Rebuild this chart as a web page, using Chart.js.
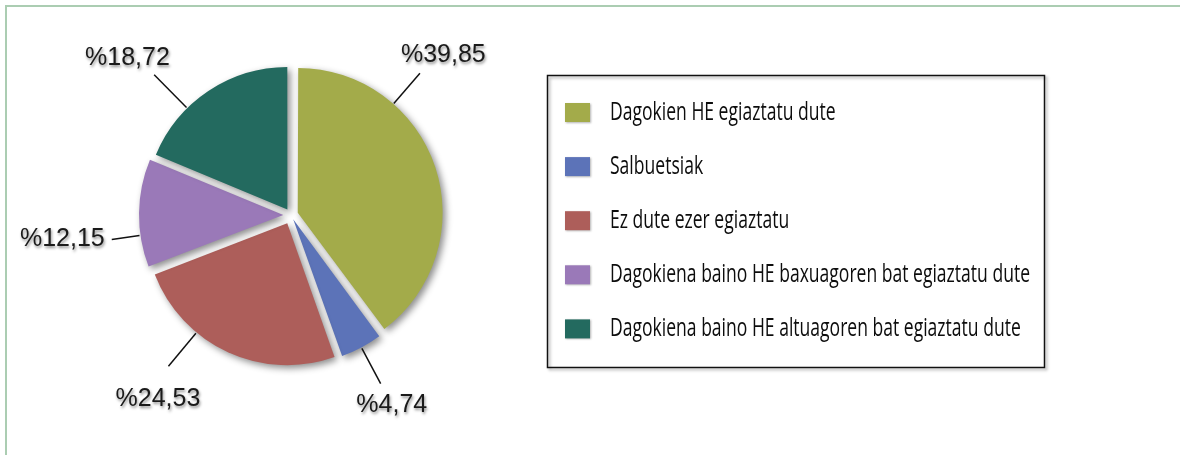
<!DOCTYPE html>
<html lang="eu">
<head>
<meta charset="UTF-8">
<title>HE egiaztapena</title>
<style>
  html, body { margin: 0; padding: 0; background: #fff; }
  #wrap { position: relative; width: 1180px; height: 455px; overflow: hidden; }
  #frame { position: absolute; left: 5px; top: 5px; width: 1200px; height: 470px;
           border-left: 2px solid #abcdb2; border-top: 2px solid #abcdb2; }
  canvas { position: absolute; left: 0; top: 0; }
</style>
<script src="https://cdn.jsdelivr.net/npm/chart.js"></script>
</head>
<body>
<div id="wrap">
  <div id="frame"></div>
  <canvas id="pie" width="1180" height="455"></canvas>
</div>
<script>
const categories = [
  'Dagokien HE egiaztatu dute',
  'Salbuetsiak',
  'Ez dute ezer egiaztatu',
  'Dagokiena baino HE baxuagoren bat egiaztatu dute',
  'Dagokiena baino HE altuagoren bat egiaztatu dute'
];
const shares = [39.85, 4.74, 24.53, 12.15, 18.72];
const shareLabels = ['%39,85', '%4,74', '%24,53', '%12,15', '%18,72'];
const colors = ['#a3ab4a', '#5c73b8', '#ad5e5a', '#9a79b8', '#236a5f'];

// how far each slice is pulled out (px) and where its label line goes
const pullOut = [10, 8, 9, 10, 7];
const labelTurn = [-31, 0, 15, -9, -11];   // degrees away from the slice middle
const lineLength = [40, 40, 43, 28, 46];
const labelDrop = [0, 0, 14, -4, 0];       // extra vertical push of the label text
const labelSlide = [0, 0, 12, 0, 0];       // extra sideways push

// arc offset in chart.js is not a plain distance, turn the wanted distance into one
function arcShift(circ) {
  const fix = 1 - Math.sin(Math.min(Math.PI, circ));
  return 1 + fix;
}

const decor = {
  id: 'decor',
  beforeDatasetsDraw(chart) {
    const ctx = chart.ctx;
    ctx.save();
    ctx.shadowColor = 'rgba(0,0,0,0.45)';
    ctx.shadowBlur = 7;
    ctx.shadowOffsetX = 3;
    ctx.shadowOffsetY = 3;
  },
  afterDatasetsDraw(chart) {
    const ctx = chart.ctx;
    ctx.restore();

    const meta = chart.getDatasetMeta(0);
    ctx.save();
    ctx.font = '25px "Liberation Sans", Arial, sans-serif';
    ctx.textAlign = 'center';
    ctx.textBaseline = 'middle';
    meta.data.forEach((arc, i) => {
      const p = arc.getProps(['x', 'y', 'startAngle', 'endAngle', 'outerRadius', 'circumference'], true);
      const mid = (p.startAngle + p.endAngle) / 2;
      const shift = arc.options.offset / 4 * arcShift(p.circumference);
      const cx = p.x + Math.cos(mid) * shift;
      const cy = p.y + Math.sin(mid) * shift;
      const a = mid + labelTurn[i] * Math.PI / 180;
      const dx = Math.cos(a), dy = Math.sin(a);
      const r0 = p.outerRadius + 1, r1 = r0 + lineLength[i];

      ctx.shadowColor = 'transparent';
      ctx.strokeStyle = '#111';
      ctx.lineWidth = 1.5;
      ctx.beginPath();
      ctx.moveTo(cx + dx * r0, cy + dy * r0);
      ctx.lineTo(cx + dx * r1, cy + dy * r1);
      ctx.stroke();

      const text = shareLabels[i];
      const w = ctx.measureText(text).width;
      const ox = dx * (w / 2 + 8) * Math.pow(Math.abs(dx), 0.8) + labelSlide[i];
      const oy = dy * 24 + labelDrop[i];
      ctx.shadowColor = 'rgba(0,0,0,0.45)';
      ctx.shadowBlur = 3;
      ctx.shadowOffsetX = 1;
      ctx.shadowOffsetY = 2;
      ctx.fillStyle = '#1a1a1a';
      ctx.fillText(text, cx + dx * r1 + ox, cy + dy * r1 + oy);
    });
    ctx.restore();
  },
  afterDraw(chart) {
    // legend box on the right
    const ctx = chart.ctx;
    const box = { left: 547, top: 75, width: 497, height: 292 };
    ctx.save();
    ctx.shadowColor = 'rgba(0,0,0,0.35)';
    ctx.shadowBlur = 3;
    ctx.shadowOffsetX = 2;
    ctx.shadowOffsetY = 2;
    ctx.strokeStyle = '#111';
    ctx.lineWidth = 1.5;
    ctx.strokeRect(box.left + 0.5, box.top + 0.5, box.width, box.height);

    ctx.font = '26px "Open Sans", "Noto Sans", sans-serif';
    const longest = Math.max(...categories.map(c => ctx.measureText(c).width));
    const sx = 420 / longest;
    categories.forEach((c, i) => {
      const yc = 112.5 + i * 54.1;
      ctx.shadowColor = 'rgba(0,0,0,0.3)';
      ctx.shadowBlur = 2;
      ctx.shadowOffsetX = 1;
      ctx.shadowOffsetY = 1;
      ctx.fillStyle = colors[i];
      ctx.fillRect(565, yc - 9.5, 25, 19);

      ctx.shadowColor = 'transparent';
      ctx.fillStyle = '#0d0d0d';
      ctx.textBaseline = 'alphabetic';
      ctx.save();
      ctx.translate(610, yc + 7);
      ctx.scale(sx, 1);
      ctx.fillText(c, 0, 0);
      ctx.restore();
    });
    ctx.restore();
  }
};

new Chart(document.getElementById('pie'), {
  type: 'pie',
  data: {
    labels: categories,
    datasets: [{
      data: shares,
      backgroundColor: colors,
      borderWidth: 0,
      radius: 142,
      clip: false,
      offset: c => 4 * pullOut[c.dataIndex] / arcShift(shares[c.dataIndex] / 100 * 2 * Math.PI),
      hoverOffset: 0
    }]
  },
  options: {
    responsive: false,
    animation: false,
    events: [],
    layout: { padding: { left: 131, top: 55, right: 729, bottom: 80 } },
    plugins: {
      legend: { display: false },
      tooltip: { enabled: false }
    }
  },
  plugins: [decor]
});
</script>
</body>
</html>
